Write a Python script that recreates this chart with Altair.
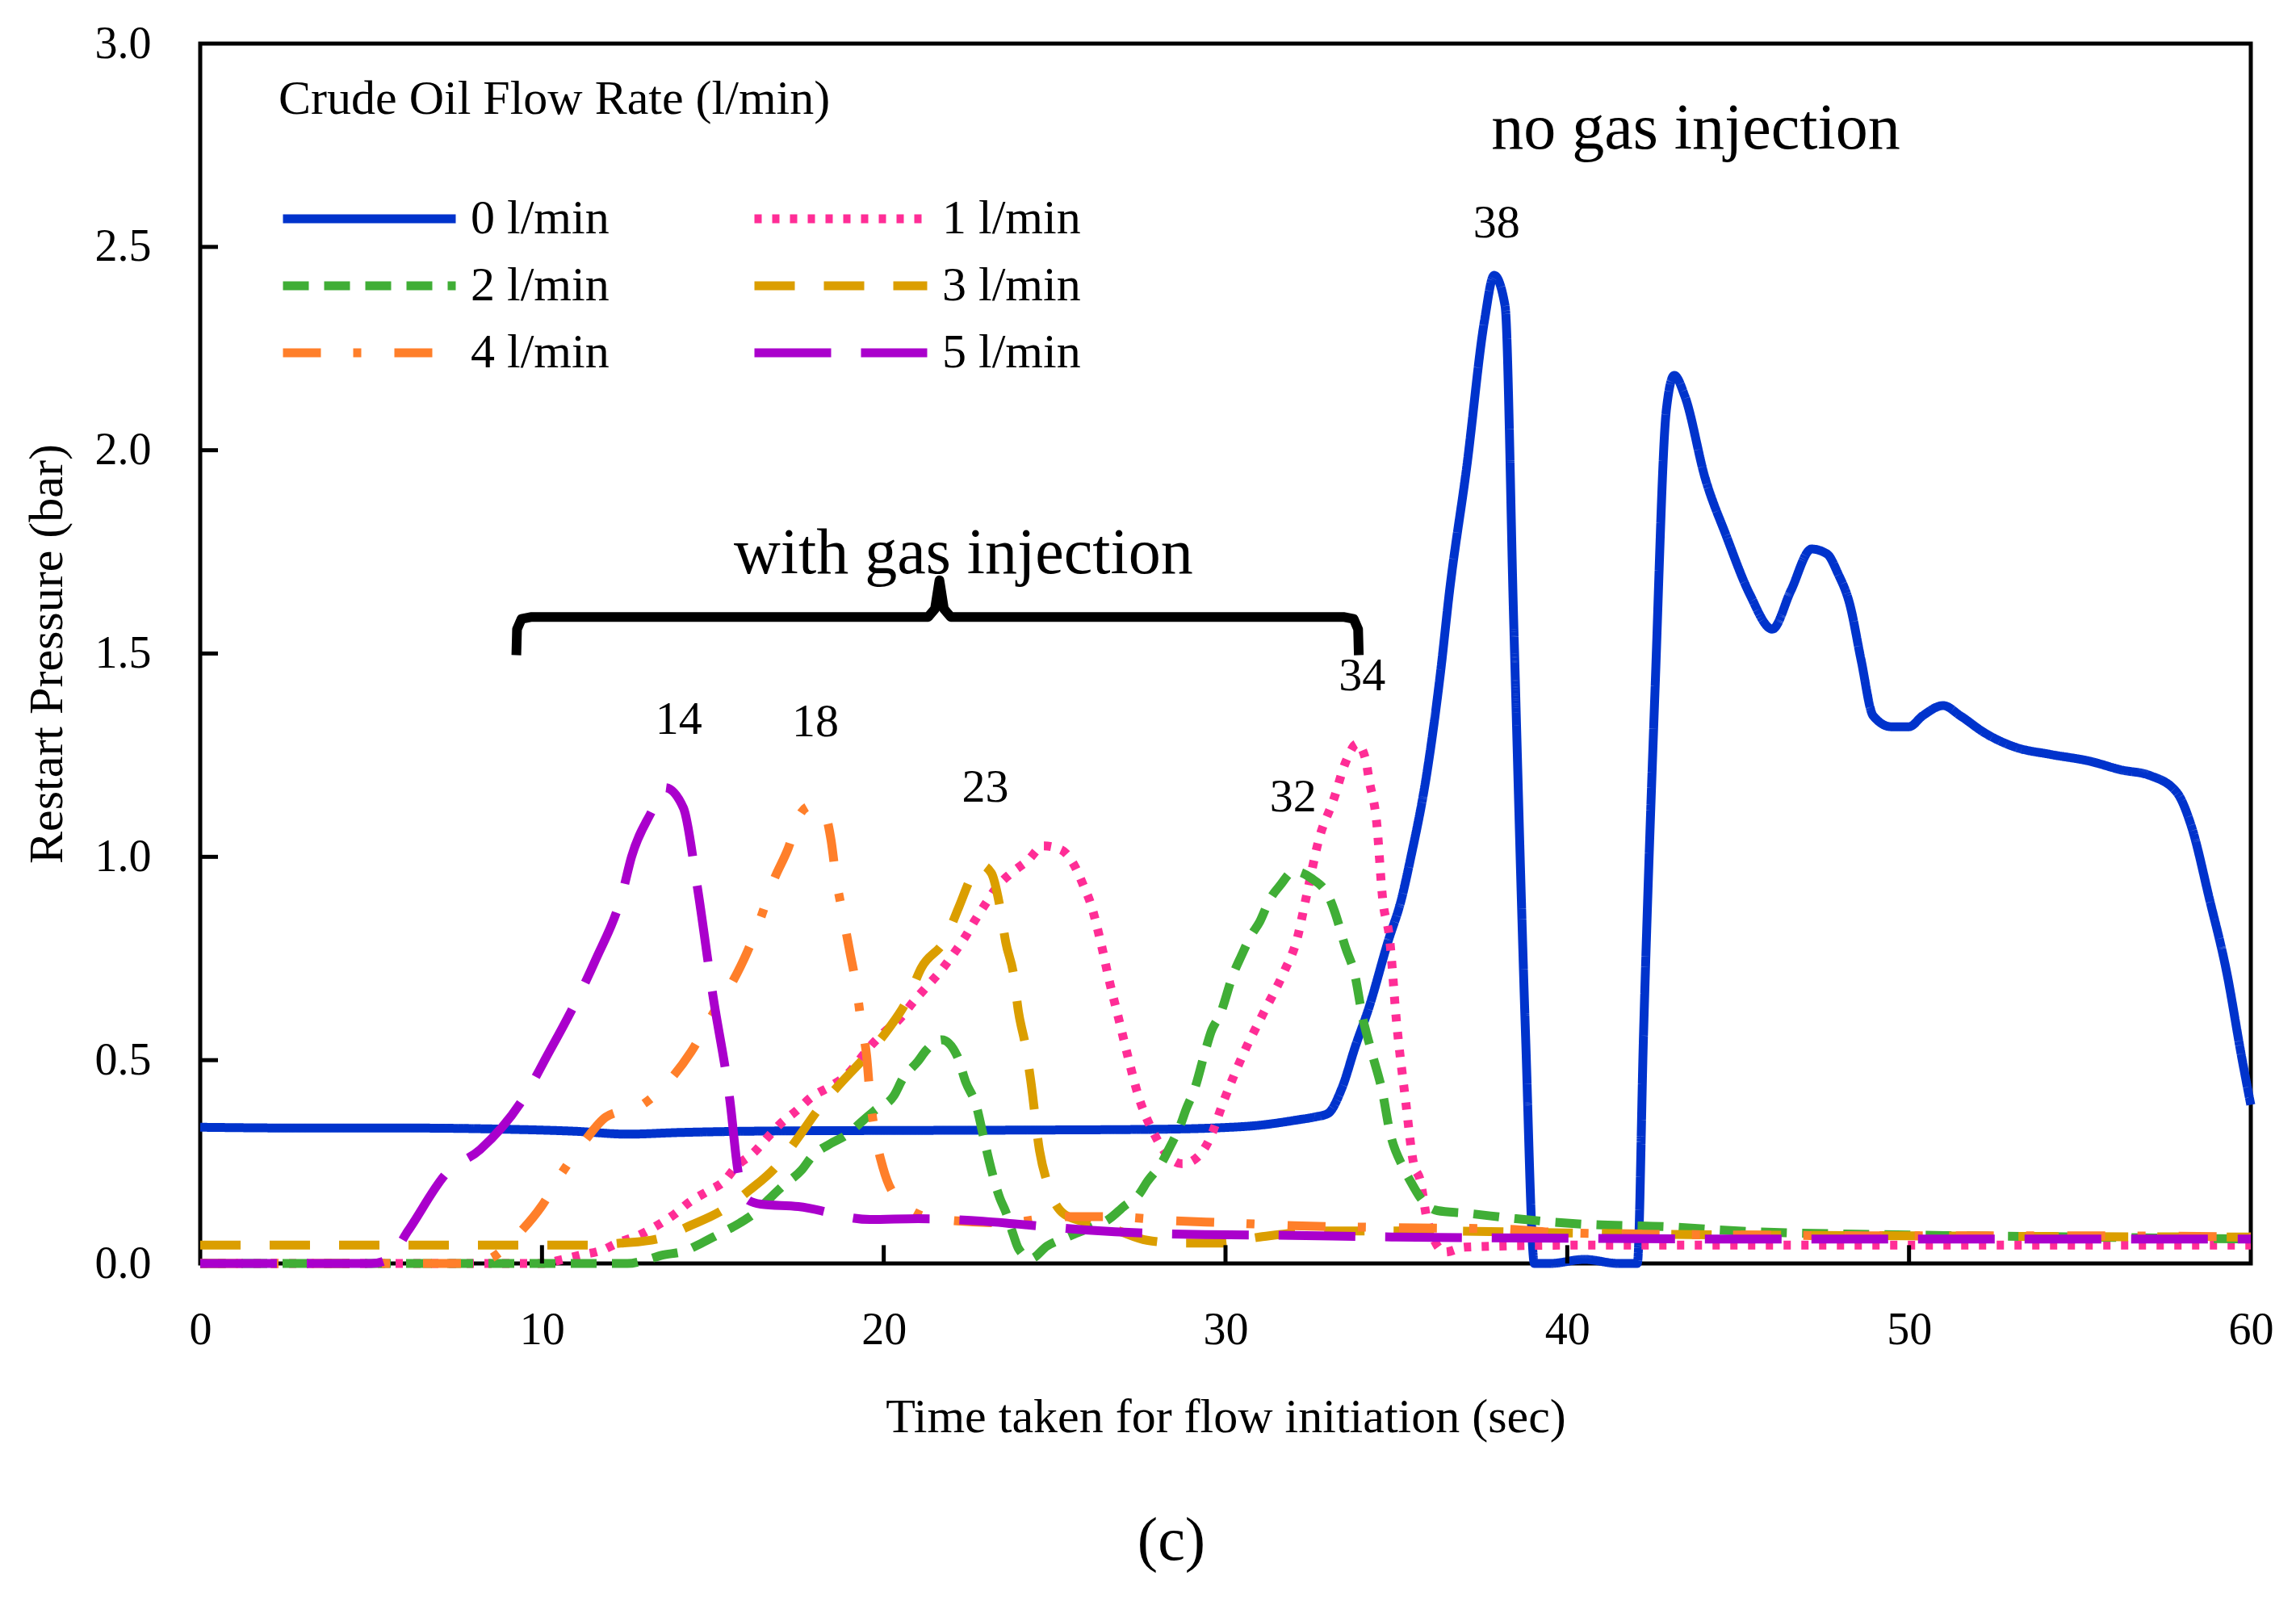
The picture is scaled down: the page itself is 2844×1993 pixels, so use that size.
import altair as alt
import pandas as pd

FONT = "Liberation Serif"

# ---- series (time in s, restart pressure in bar) ----
rate_labels = ["0 l/min", "1 l/min", "2 l/min", "3 l/min", "4 l/min", "5 l/min"]
rate_colors = ["#0033CC", "#FF2D96", "#40AE36", "#DB9E00", "#FF7F2A", "#AA00CC"]
rate_dashes = [[1, 0], [9, 13], [32, 19], [50, 36], [47, 40, 10, 41], [95, 37]]
# legend fills column by column: this order reads 0 1 / 2 3 / 4 5 across rows
legend_order = ["0 l/min", "2 l/min", "4 l/min", "1 l/min", "3 l/min", "5 l/min"]

t0 = [0, 3, 6, 9, 11, 12.5, 14, 17, 20, 24, 28, 29.6, 31, 32.1, 32.6, 33.0, 33.4, 33.8, 34.2,
      34.75, 35.16, 35.4, 35.9, 36.3, 36.55, 37.06, 37.58, 37.86, 38.18, 38.43, 38.78, 39.04,
      39.5, 40.5, 41.5, 42.05, 42.23, 42.57, 42.9, 43.13, 43.44, 44.04, 44.65, 45.34, 46.0,
      46.54, 47.15, 47.6, 47.92, 48.27, 48.6, 48.95, 49.48, 50.0, 50.4, 51.0, 51.5, 52.23,
      53.1, 54.13, 55.3, 56.2, 57.05, 57.84, 58.27, 58.78, 59.3, 59.73, 60]
p0 = [0.335, 0.333, 0.333, 0.33, 0.325, 0.318, 0.322, 0.326, 0.327, 0.328, 0.33, 0.333, 0.34,
      0.353, 0.36, 0.369, 0.43, 0.534, 0.63, 0.79, 0.90, 0.99, 1.21, 1.46, 1.65, 1.96, 2.32,
      2.43, 2.355, 1.586, 0.56, 0.0, 0.0, 0.01, 0.0, 0.0, 0.56, 1.415, 2.1, 2.184, 2.133, 1.93,
      1.79, 1.646, 1.56, 1.654, 1.757, 1.745, 1.697, 1.62, 1.483, 1.347, 1.32, 1.32, 1.347,
      1.372, 1.347, 1.304, 1.27, 1.252, 1.235, 1.214, 1.2, 1.158, 1.073, 0.90, 0.714, 0.509, 0.39]

t1 = [0, 5, 10, 10.6, 11.1, 11.77, 12.2, 12.88, 13.3, 13.89, 14.3, 14.9, 15.3, 15.7, 16.19,
      16.6, 16.97, 17.45, 17.9, 18.45, 18.87, 19.67, 20.03, 20.45, 20.9, 21.25, 21.67, 22.03,
      22.36, 22.67, 22.99, 23.35, 23.73, 24.2, 24.68, 25.2, 25.57, 25.84, 26.05, 26.35, 26.6,
      26.88, 27.15, 27.44, 27.94, 28.2, 28.74, 29.2, 29.53, 29.95, 30.6, 31.16, 31.7, 32.1,
      32.36, 32.74, 33.16, 33.53, 33.85, 34.1, 34.2, 34.42, 34.6, 34.8, 35.0, 35.27, 35.5,
      35.7, 35.9, 36.43, 37, 40, 45, 50, 55, 60]
p1 = [0, 0, 0, 0.01, 0.02, 0.033, 0.05, 0.071, 0.09, 0.122, 0.15, 0.18, 0.2, 0.24, 0.272,
      0.31, 0.343, 0.376, 0.41, 0.436, 0.46, 0.54, 0.57, 0.60, 0.647, 0.68, 0.72, 0.76, 0.80,
      0.844, 0.886, 0.93, 0.96, 0.99, 1.027, 1.017, 0.98, 0.93, 0.886, 0.79, 0.695, 0.60,
      0.507, 0.415, 0.314, 0.277, 0.245, 0.263, 0.305, 0.40, 0.53, 0.624, 0.715, 0.80, 0.90,
      1.045, 1.14, 1.236, 1.278, 1.24, 1.19, 1.087, 0.895, 0.80, 0.598, 0.40, 0.247, 0.204,
      0.108, 0.028, 0.04, 0.045, 0.045, 0.045, 0.045, 0.045]

t2 = [0, 5, 10, 12.5, 13.1, 13.5, 14.15, 14.67, 15.15, 15.8, 16.19, 16.6, 17.08, 17.6, 17.9,
      18.45, 18.87, 19.4, 19.73, 20.3, 20.56, 21.0, 21.25, 21.7, 22.15, 22.4, 22.7, 22.95,
      23.15, 23.4, 23.57, 23.79, 23.94, 24.3, 24.78, 25.4, 26.1, 26.57, 27.05, 27.47, 27.7,
      28.15, 28.37, 28.67, 28.85, 29.1, 29.4, 29.58, 29.85, 30.22, 30.46, 30.75, 31.0, 31.3,
      31.6, 32.0, 32.5, 33.05, 33.2, 33.5, 33.8, 34.0, 34.3, 34.6, 34.8, 35.2, 35.4, 35.8,
      36.2, 37.0, 38.5, 40.4, 43, 45, 50, 55, 60]
p2 = [0, 0, 0, 0, 0.01, 0.02, 0.03, 0.05, 0.071, 0.10, 0.122, 0.155, 0.193, 0.23, 0.263,
      0.295, 0.314, 0.352, 0.376, 0.413, 0.455, 0.497, 0.525, 0.55, 0.51, 0.446, 0.39, 0.30,
      0.23, 0.16, 0.127, 0.071, 0.037, 0.012, 0.043, 0.066, 0.09, 0.108, 0.142, 0.17, 0.2,
      0.25, 0.286, 0.338, 0.38, 0.43, 0.52, 0.57, 0.614, 0.71, 0.756, 0.807, 0.84, 0.896,
      0.93, 0.965, 0.948, 0.897, 0.864, 0.78, 0.704, 0.61, 0.513, 0.418, 0.327, 0.236, 0.204,
      0.151, 0.13, 0.124, 0.11, 0.097, 0.09, 0.08, 0.07, 0.065, 0.06]

t3 = [0, 4, 8, 11.5, 12.3, 13.35, 14.36, 15.26, 16.07, 16.87, 17.5, 18.14, 18.77, 19.45,
      20.14, 20.7, 21.1, 21.8, 22.2, 22.6, 22.85, 23.15, 23.4, 23.57, 23.8, 23.94, 24.15,
      24.3, 24.56, 24.8, 25.3, 26.0, 26.7, 27.7, 28.7, 29.8, 31, 33, 36, 40, 45, 50, 55, 60]
p3 = [0.045, 0.045, 0.045, 0.045, 0.05, 0.06, 0.094, 0.13, 0.18, 0.24, 0.31, 0.385, 0.446,
      0.507, 0.577, 0.65, 0.727, 0.797, 0.877, 0.956, 0.98, 0.96, 0.877, 0.79, 0.71, 0.62,
      0.534, 0.45, 0.277, 0.194, 0.12, 0.10, 0.085, 0.057, 0.05, 0.05, 0.065, 0.08, 0.08,
      0.075, 0.07, 0.068, 0.066, 0.065]

t4 = [0, 3, 6, 8.0, 8.55, 9.35, 9.98, 10.56, 11.24, 11.87, 12.93, 13.78, 14.36, 14.94, 15.56,
      16.0, 16.4, 16.77, 17.2, 17.56, 17.85, 18.19, 18.46, 18.6, 18.8, 19.0, 19.2, 19.35, 19.5,
      19.6, 19.77, 19.98, 20.5, 21.5, 23.6, 25.2, 26.6, 28.5, 30.05, 32, 35, 38, 40, 45, 50,
      55, 60]
p4 = [0, 0, 0, 0, 0.015, 0.076, 0.14, 0.22, 0.30, 0.36, 0.39, 0.455, 0.52, 0.605, 0.69,
      0.765, 0.85, 0.94, 1.02, 1.106, 1.125, 1.12, 1.04, 0.95, 0.86, 0.77, 0.68, 0.587, 0.51,
      0.41, 0.31, 0.235, 0.15, 0.11, 0.10, 0.115, 0.115, 0.105, 0.10, 0.093, 0.088, 0.085,
      0.075, 0.07, 0.068, 0.068, 0.065]

t5 = [0, 2, 4, 5.0, 5.5, 6.08, 7.24, 8.19, 9.56, 10.08, 11.09, 11.56, 12.35, 12.62, 13.2,
      13.6, 14.14, 14.52, 15.0, 15.5, 15.75, 16.05, 16.4, 17.5, 19.6, 21, 22.9, 23.9, 26.0,
      29.4, 31, 35, 40, 45, 50, 55, 60]
p5 = [0, 0, 0, 0, 0.01, 0.08, 0.225, 0.28, 0.42, 0.50, 0.66, 0.745, 0.91, 1.0, 1.11, 1.17,
      1.12, 0.94, 0.66, 0.40, 0.22, 0.155, 0.146, 0.14, 0.108, 0.11, 0.104, 0.097, 0.082,
      0.071, 0.07, 0.065, 0.062, 0.06, 0.06, 0.06, 0.06]

# ---- annotations ----
peak_text = ["14", "18", "23", "32", "34", "38"]
peak_t = [14.0, 18.0, 22.97, 31.98, 34.0, 37.93]
peak_p = [1.336, 1.33, 1.17, 1.145, 1.444, 2.557]

note_text = ["no gas injection", "with gas injection"]
note_t = [43.76, 22.33]
note_p = [2.79, 1.746]

brace_t = [9.25, 9.27, 9.4, 9.7, 21.3, 21.5, 21.63, 21.76, 21.96, 33.45, 33.75, 33.88, 33.9]
brace_p = [1.496, 1.56, 1.585, 1.59, 1.59, 1.61, 1.68, 1.61, 1.59, 1.59, 1.585, 1.56, 1.496]

xtick_values = [10, 20, 30, 40, 50]
ytick_values = [0.5, 1.0, 1.5, 2.0, 2.5]

series_t = [t0, t1, t2, t3, t4, t5]
series_p = [p0, p1, p2, p3, p4, p5]
rows = []
for lab, ts, ps in zip(rate_labels, series_t, series_p):
    for i, (t, p) in enumerate(zip(ts, ps)):
        rows.append({"rate": lab, "t": t, "p": p, "i": i})
lines_df = pd.DataFrame(rows)

colors_by_order = [rate_colors[rate_labels.index(r)] for r in legend_order]
dashes_by_order = [rate_dashes[rate_labels.index(r)] for r in legend_order]

x_scale = alt.Scale(domain=[0, 60], nice=False, zero=False)
y_scale = alt.Scale(domain=[0, 3], nice=False, zero=False)

x_axis = alt.Axis(values=[0, 10, 20, 30, 40, 50, 60], ticks=False, domain=False, grid=False,
                  labelFont=FONT, labelFontSize=56, labelPadding=55, labelFlush=False,
                  labelColor="black", title="Time taken for flow initiation  (sec)",
                  titleFont=FONT, titleFontSize=60, titleFontWeight="normal",
                  titleColor="black", titlePadding=51)
y_axis = alt.Axis(values=[0, 0.5, 1.0, 1.5, 2.0, 2.5, 3.0], format=".1f", ticks=False,
                  domain=False, grid=False, labelFont=FONT, labelFontSize=56,
                  labelPadding=61, labelFlush=False, labelColor="black",
                  title="Restart Pressure (bar)", titleFont=FONT, titleFontSize=60,
                  titleFontWeight="normal", titleColor="black", titlePadding=28)

legend = alt.Legend(title="Crude Oil Flow Rate (l/min)", orient="none", legendX=97,
                    legendY=40, columns=2, columnPadding=174, rowPadding=21, padding=0,
                    clipHeight=62, symbolType="stroke", symbolSize=45796,
                    symbolStrokeWidth=11, labelFont=FONT, labelFontSize=60, labelOffset=13,
                    labelLimit=500, labelColor="black", titleFont=FONT, titleFontSize=60,
                    titleLimit=1500, titleFontWeight="normal", titleColor="black",
                    titlePadding=86)

lines = alt.Chart(lines_df).mark_line(
    strokeWidth=11, strokeCap="butt", strokeJoin="round", interpolate="monotone"
).encode(
    x=alt.X("t:Q", scale=x_scale, axis=x_axis),
    y=alt.Y("p:Q", scale=y_scale, axis=y_axis),
    color=alt.Color("rate:N", scale=alt.Scale(domain=legend_order, range=colors_by_order),
                    legend=legend),
    strokeDash=alt.StrokeDash("rate:N",
                              scale=alt.Scale(domain=legend_order, range=dashes_by_order),
                              legend=legend),
    order="i:Q",
)

peaks = alt.Chart(pd.DataFrame({"t": peak_t, "p": peak_p, "txt": peak_text})).mark_text(
    font=FONT, fontSize=58, color="black", baseline="middle", align="center"
).encode(x=alt.X("t:Q", scale=x_scale, axis=x_axis),
         y=alt.Y("p:Q", scale=y_scale, axis=y_axis), text="txt:N")

notes = alt.Chart(pd.DataFrame({"t": note_t, "p": note_p, "txt": note_text})).mark_text(
    font=FONT, fontSize=80, color="black", baseline="middle", align="center"
).encode(x=alt.X("t:Q", scale=x_scale, axis=x_axis),
         y=alt.Y("p:Q", scale=y_scale, axis=y_axis), text="txt:N")

brace = alt.Chart(pd.DataFrame({"t": brace_t, "p": brace_p,
                                "i": list(range(len(brace_t)))})).mark_line(
    color="black", strokeWidth=12, strokeJoin="round", strokeCap="butt"
).encode(x=alt.X("t:Q", scale=x_scale, axis=x_axis),
         y=alt.Y("p:Q", scale=y_scale, axis=y_axis), order="i:Q")

# inward tick marks drawn as short rules on top of everything
xticks = alt.Chart(pd.DataFrame({"t": xtick_values})).mark_rule(
    color="black", strokeWidth=5
).encode(x=alt.X("t:Q", scale=x_scale, axis=x_axis),
         y=alt.datum(0), y2=alt.datum(0.045))

yticks = alt.Chart(pd.DataFrame({"p": ytick_values})).mark_rule(
    color="black", strokeWidth=5
).encode(y=alt.Y("p:Q", scale=y_scale, axis=y_axis),
         x=alt.datum(0), x2=alt.datum(0.52))

chart = alt.layer(brace, lines, peaks, notes, xticks, yticks).properties(
    width=2540,
    height=1511,
    autosize=alt.AutoSizeParams(type="none"),
    padding={"left": 240, "top": 46, "right": 48, "bottom": 420},
    background="white",
    title=alt.Title("(c)", orient="bottom", anchor="middle", font=FONT, fontSize=76,
                    fontWeight="normal", color="black", offset=87, dx=-67),
).configure_view(stroke="black", strokeWidth=5)

chart.save("out.html", embed_options={"renderer": "svg", "actions": False})
